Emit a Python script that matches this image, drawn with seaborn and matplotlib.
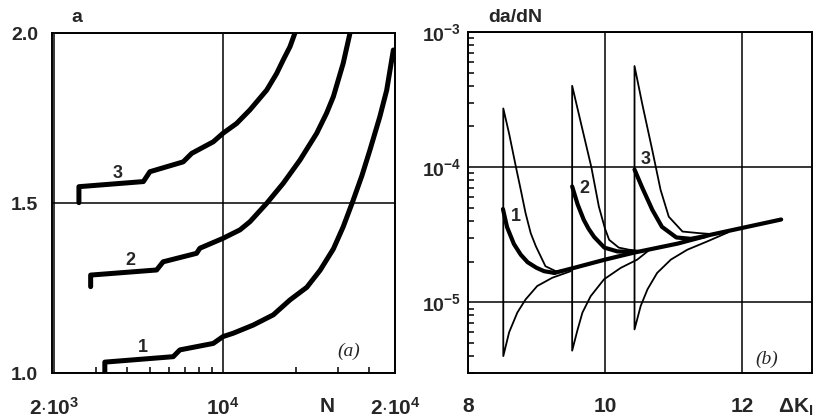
import matplotlib
matplotlib.use("Agg")
import matplotlib.pyplot as plt
import seaborn as sns
from matplotlib.ticker import FixedLocator, NullFormatter, LogLocator

# ---------------- data: panel (a) crack length a vs cycles N ----------------
N1 = [3250, 3250, 6230, 6640, 9120, 10000, 11030, 13340, 16140, 18930, 22200, 25200, 28600,
      31400, 34400, 37500, 40500, 44500, 47500, 50600]
A1 = [1.000, 1.032, 1.048, 1.068, 1.087, 1.107, 1.117, 1.141, 1.171, 1.215, 1.252, 1.302, 1.365,
      1.430, 1.505, 1.580, 1.656, 1.754, 1.832, 1.950]
N2 = [2840, 2840, 5320, 5660, 7780, 8030, 10000, 11760, 12930, 15160, 17750, 20800, 24400,
      26800, 28600, 31400, 33500]
A2 = [1.254, 1.288, 1.303, 1.327, 1.352, 1.367, 1.396, 1.421, 1.445, 1.499, 1.558, 1.626, 1.705,
      1.764, 1.813, 1.911, 2.000]
N3 = [2540, 2540, 4690, 4990, 6850, 7430, 9120, 10000, 11390, 12930, 15160, 16670, 17750, 18930, 19840]
A3 = [1.501, 1.548, 1.563, 1.592, 1.621, 1.646, 1.680, 1.705, 1.734, 1.774, 1.832, 1.881, 1.921,
      1.960, 2.000]
a_ticks = [1.0, 1.5, 2.0]
a_ticklabels = ["1.0", "1.5", "2.0"]
n_ticklabels = [r"$2{\cdot}10^{3}$", r"$10^{4}$", r"$2{\cdot}10^{4}$"]

# ---------------- data: panel (b) da/dN vs dK ----------------
base_k = [9.26, 9.55, 10.0, 10.42, 11.06, 11.54, 12.0, 12.57]
base_v = [1.65e-5, 1.80e-5, 2.07e-5, 2.33e-5, 2.72e-5, 3.16e-5, 3.55e-5, 4.10e-5]
spike1_k = [8.51, 8.57, 8.67, 8.77, 8.87, 9.00, 9.11, 9.26]
spike1_v = [4.9e-5, 3.6e-5, 2.7e-5, 2.25e-5, 1.98e-5, 1.80e-5, 1.70e-5, 1.65e-5]
spike2_k = [9.52, 9.60, 9.69, 9.76, 9.84, 9.99, 10.18, 10.45]
spike2_v = [7.2e-5, 5.3e-5, 4.07e-5, 3.5e-5, 3.05e-5, 2.54e-5, 2.38e-5, 2.36e-5]
spike3_k = [10.43, 10.54, 10.69, 10.83, 11.04, 11.25, 11.45]
spike3_v = [9.6e-5, 7.1e-5, 4.83e-5, 3.62e-5, 3.02e-5, 2.95e-5, 3.08e-5]

thin1_k = [9.50, 9.23, 9.01, 8.84, 8.72, 8.60, 8.515, 8.515, 8.60, 8.70, 8.77, 8.84, 8.915, 8.99,
           9.13, 9.28, 9.40]
thin1_v = [1.70e-5, 1.52e-5, 1.32e-5, 1.05e-5, 8.4e-6, 6.0e-6, 4.0e-6, 2.72e-4, 1.77e-4, 1.0e-4,
           6.8e-5, 4.57e-5, 3.25e-5, 2.6e-5, 1.85e-5, 1.70e-5, 1.72e-5]
thin2_k = [10.65, 10.47, 10.23, 9.985, 9.79, 9.67, 9.60, 9.52, 9.52, 9.65, 9.80, 9.91, 10.00, 10.06,
           10.20, 10.35, 10.50]
thin2_v = [2.45e-5, 2.07e-5, 1.80e-5, 1.48e-5, 1.11e-5, 8.4e-6, 6.3e-6, 4.39e-6, 4.0e-4, 2.1e-4,
           1.0e-4, 5.1e-5, 3.5e-5, 2.9e-5, 2.54e-5, 2.45e-5, 2.40e-5]
thin3_k = [11.80, 11.49, 11.20, 10.96, 10.76, 10.62, 10.52, 10.43, 10.43, 10.545, 10.69, 10.81,
           10.93, 11.13, 11.37, 11.55]
thin3_v = [3.3e-5, 2.82e-5, 2.45e-5, 2.07e-5, 1.65e-5, 1.25e-5, 9.4e-6, 6.3e-6, 5.6e-4, 2.9e-4,
           1.33e-4, 6.8e-5, 4.3e-5, 3.34e-5, 3.25e-5, 3.2e-5]
k_ticks = [8, 10, 12]
k_ticklabels = ["8", "10", "12"]
v_ticks = [1e-5, 1e-4, 1e-3]
v_ticklabels = [r"$10^{-5}$", r"$10^{-4}$", r"$10^{-3}$"]

# ---------------- style ----------------
sns.set_style("white")
plt.rcParams["font.family"] = ["Liberation Sans", "DejaVu Sans"]
plt.rcParams["font.weight"] = "bold"
plt.rcParams["mathtext.fontset"] = "custom"
plt.rcParams["mathtext.rm"] = "Liberation Sans:bold"
plt.rcParams["mathtext.it"] = "Liberation Sans:bold"
plt.rcParams["mathtext.bf"] = "Liberation Sans:bold"
plt.rcParams["axes.edgecolor"] = "black"
plt.rcParams["axes.linewidth"] = 1.4

fig = plt.figure(figsize=(8.22, 4.18), dpi=100)
axA = fig.add_axes([52 / 822, 1 - 373 / 418, 343 / 822, 340 / 418])
axB = fig.add_axes([468 / 822, 1 - 373 / 418, 344 / 822, 341 / 418])

thick = dict(color="black", estimator=None, sort=False, legend=False,
             solid_capstyle="round", solid_joinstyle="round")

# ---------------- panel (a) ----------------
for n, a in [(N1, A1), (N2, A2), (N3, A3)]:
    sns.lineplot(x=n, y=a, ax=axA, lw=3.6, **thick)
axA.set_xscale("log")
xminA, xmaxA = 1966, 51400
axA.set_xlim(xminA, xmaxA)
axA.set_ylim(1.0, 2.0)
axA.set_yticks(a_ticks)
axA.set_yticklabels(a_ticklabels)
axA.xaxis.set_major_locator(FixedLocator([2000, 10000, xmaxA]))
axA.set_xticklabels(n_ticklabels)
axA.xaxis.set_minor_locator(FixedLocator([3e3, 4e3, 5e3, 6e3, 7e3, 8e3, 9e3, 2e4, 3e4, 4e4]))
axA.xaxis.set_minor_formatter(NullFormatter())
axA.grid(True, which="major", color="black", lw=1.1)
axA.tick_params(axis="y", which="major", length=0, pad=10, labelsize=14)
axA.tick_params(axis="x", which="major", length=0, pad=17, labelsize=15)
axA.tick_params(axis="x", which="minor", bottom=True, direction="in", length=4, width=1.1, color="black")
axA.set_xlabel("N", fontsize=15, fontweight="bold")
axA.xaxis.set_label_coords((327 - 52) / 343, -0.07)
axA.xaxis.label.set_va("top")
axA.set_ylabel("")
for lbl, n, a in [("3", 3680, 1.588), ("2", 4130, 1.332), ("1", 4670, 1.076)]:
    axA.text(n, a, lbl, ha="center", va="center", fontsize=13, fontweight="bold")
axA.text(0.864, 0.063, "(a)", transform=axA.transAxes, ha="center", va="center",
         fontsize=14, family="Liberation Serif", style="italic", fontweight="normal")

# ---------------- panel (b) ----------------
for k, v in [(thin1_k, thin1_v), (thin2_k, thin2_v), (thin3_k, thin3_v)]:
    sns.lineplot(x=k, y=v, ax=axB, lw=1.3, **thick)
for k, v in [(base_k, base_v), (spike1_k, spike1_v), (spike2_k, spike2_v), (spike3_k, spike3_v)]:
    sns.lineplot(x=k, y=v, ax=axB, lw=3.0, **thick)
axB.set_yscale("log")
axB.set_xlim(8, 13.02)
axB.set_ylim(3.0e-6, 1.0e-3)
axB.set_xticks(k_ticks)
axB.set_xticklabels(k_ticklabels)
axB.yaxis.set_major_locator(FixedLocator(v_ticks))
axB.set_yticklabels(v_ticklabels)
axB.yaxis.set_minor_locator(LogLocator(base=10, subs=range(2, 10)))
axB.yaxis.set_minor_formatter(NullFormatter())
axB.grid(True, which="major", color="black", lw=1.1)
axB.tick_params(axis="y", which="major", length=0, pad=5, labelsize=14)
axB.tick_params(axis="x", which="major", length=0, pad=17, labelsize=15)
axB.tick_params(axis="y", which="minor", left=True, direction="in", length=4, width=1.1, color="black")
axB.set_xlabel(r"$\Delta\mathrm{K}_{\mathrm{I}}$", fontsize=15)
axB.xaxis.set_label_coords((796 - 468) / 344, -0.07)
axB.xaxis.label.set_va("top")
axB.set_ylabel("")
for lbl, k, v in [("1", 8.705, 4.31e-5), ("2", 9.70, 6.97e-5), ("3", 10.59, 1.14e-4)]:
    axB.text(k, v, lbl, ha="center", va="center", fontsize=13, fontweight="bold")
axB.text(0.868, 0.041, "(b)", transform=axB.transAxes, ha="center", va="center",
         fontsize=14, family="Liberation Serif", style="italic", fontweight="normal")

for ax in (axA, axB):
    for s in ax.spines.values():
        s.set_visible(True)
        s.set_color("black")
        s.set_linewidth(1.4)

fig.text(77 / 822, 1 - 17 / 418, "a", ha="center", va="center", fontsize=14, fontweight="bold")
fig.text(515 / 822, 1 - 18 / 418, "da/dN", ha="center", va="center", fontsize=14, fontweight="bold")

fig.savefig("out.png", dpi=100, facecolor="white")
